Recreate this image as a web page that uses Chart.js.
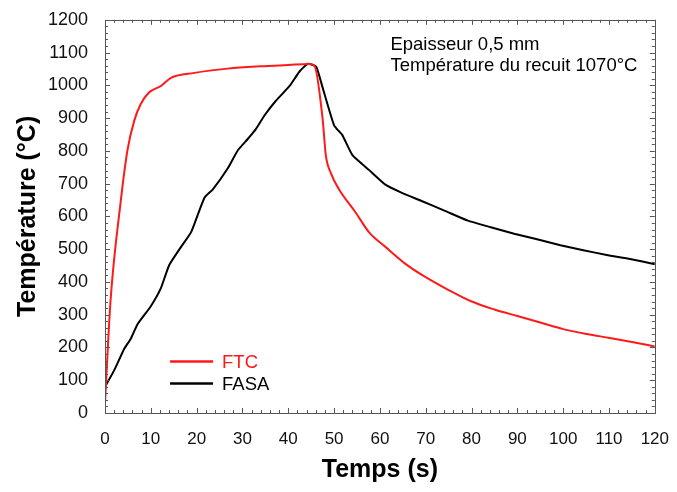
<!DOCTYPE html>
<html>
<head>
<meta charset="utf-8">
<script src="https://cdn.jsdelivr.net/npm/chart.js@4"></script>
<style>
  html, body { margin: 0; padding: 0; background: #fff; }
  #wrap { width: 677px; height: 492px; }
</style>
</head>
<body>
<div id="wrap"><canvas id="tempChart" width="677" height="492"></canvas></div>
<script>
// FTC curve (red)
const ftcTime = [0, 1.2, 3.4, 4.9, 6.4, 7.8, 9.6, 12.2, 14.4, 19.5, 26.8, 34, 40, 44.5, 45.7, 47.5, 48.2, 49.3, 51.1, 54.7, 57.6, 61.2, 65.5, 69.8, 74.9, 79.9, 85, 90, 95, 100, 105.2, 110.2, 115.3, 120];
const ftcTemp = [30, 341, 642, 802, 893, 943, 978, 998, 1023, 1038, 1051, 1058, 1062, 1065, 1060, 897, 786, 732, 682, 612, 552, 507, 456, 416, 376, 341, 316, 296, 276, 256, 241, 229, 216, 203];

// FASA curve (black)
const fasaTime = [0, 2, 4.2, 5.6, 7.1, 10, 12.2, 14, 16.6, 18.8, 21.7, 23.5, 26.8, 29, 31.2, 33, 34.8, 37.3, 40.3, 42.5, 44.3, 46.1, 47.5, 50, 51.8, 54, 57.6, 61.2, 64.8, 69.1, 74.2, 79.2, 84.2, 89.3, 94.3, 99.4, 104.4, 109.5, 114.6, 120];
const fasaTemp = [80, 130, 196, 226, 271, 326, 381, 451, 507, 552, 657, 682, 747, 802, 837, 868, 908, 953, 998, 1043, 1066, 1057, 993, 878, 848, 787, 742, 697, 672, 647, 617, 587, 567, 547, 530, 512, 497, 482, 470, 454];

const seriesNames = ['FTC', 'FASA'];
const seriesColors = ['#ff1a1a', '#000000'];
const noteLines = ['Epaisseur 0,5 mm', 'Température du recuit 1070°C'];

const FONT = 'Liberation Sans, Arial, sans-serif';

function toPoints(xs, ys) {
  return xs.map((x, i) => ({ x: x, y: ys[i] }));
}

// inward ticks on all four sides + frame
const frameTicks = {
  id: 'frameTicks',
  afterDatasetsDraw(chart) {
    const { ctx, chartArea: a, scales: { x, y } } = chart;
    ctx.save();
    ctx.strokeStyle = '#555';
    ctx.lineWidth = 1;
    ctx.beginPath();
    for (let v = 0; v <= 120; v += 2) {
      const px = Math.round(x.getPixelForValue(v)) + 0.5;
      const len = v % 10 === 0 ? 5 : 3;
      ctx.moveTo(px, a.bottom); ctx.lineTo(px, a.bottom - len);
      ctx.moveTo(px, a.top); ctx.lineTo(px, a.top + len);
    }
    for (let v = 0; v <= 1200; v += 20) {
      const py = Math.round(y.getPixelForValue(v)) + 0.5;
      const len = v % 100 === 0 ? 5 : 3;
      ctx.moveTo(a.left, py); ctx.lineTo(a.left + len, py);
      ctx.moveTo(a.right, py); ctx.lineTo(a.right - len, py);
    }
    ctx.stroke();
    ctx.strokeRect(Math.round(a.left) + 0.5, Math.round(a.top) + 0.5,
      Math.round(a.right - a.left), Math.round(a.bottom - a.top));
    ctx.restore();
  }
};

// legend inside the plot + annotation text
const innerText = {
  id: 'innerText',
  afterDraw(chart) {
    const { ctx, scales: { x, y } } = chart;
    ctx.save();
    ctx.font = '18.5px ' + FONT;
    ctx.textBaseline = 'middle';
    // legend, anchored by data coordinates
    const lx = x.getPixelForValue(14.2);
    chart.data.datasets.forEach((ds, i) => {
      const ly = y.getPixelForValue(i === 0 ? 157 : 90);
      ctx.strokeStyle = ds.borderColor;
      ctx.lineWidth = 2.5;
      ctx.beginPath();
      ctx.moveTo(lx, ly); ctx.lineTo(lx + 43, ly);
      ctx.stroke();
      ctx.fillStyle = ds.borderColor;
      ctx.fillText(ds.label, lx + 52, ly + 1);
    });
    // annotation
    ctx.fillStyle = '#000';
    const tx = x.getPixelForValue(62.3);
    ctx.fillText(noteLines[0], tx, y.getPixelForValue(1124));
    ctx.fillText(noteLines[1], tx, y.getPixelForValue(1058));
    ctx.restore();
  }
};

const ctx = document.getElementById('tempChart').getContext('2d');

new Chart(ctx, {
  type: 'line',
  data: {
    datasets: [
      {
        label: seriesNames[0],
        data: toPoints(ftcTime, ftcTemp),
        borderColor: seriesColors[0],
        borderWidth: 2,
        pointRadius: 0,
        cubicInterpolationMode: 'monotone',
        fill: false
      },
      {
        label: seriesNames[1],
        data: toPoints(fasaTime, fasaTemp),
        borderColor: seriesColors[1],
        borderWidth: 2,
        pointRadius: 0,
        tension: 0.15,
        fill: false
      }
    ]
  },
  options: {
    responsive: false,
    animation: false,
    layout: { padding: { top: 15, right: 20, left: 0, bottom: 0 } },
    plugins: {
      legend: { display: false },
      tooltip: { enabled: false }
    },
    scales: {
      x: {
        type: 'linear',
        min: 0,
        max: 120,
        afterFit: s => { s.height = 79; },
        border: { display: false },
        grid: { display: false },
        ticks: {
          stepSize: 10,
          padding: 8,
          color: '#111',
          font: { family: FONT, size: 17 }
        },
        title: {
          display: true,
          text: 'Temps (s)',
          color: '#000',
          padding: { top: 0, bottom: 7 },
          font: { family: FONT, size: 25, weight: 'bold' }
        }
      },
      y: {
        min: 0,
        max: 1200,
        afterFit: s => { s.width = 105; },
        border: { display: false },
        grid: { display: false },
        ticks: {
          stepSize: 100,
          padding: 9,
          color: '#111',
          font: { family: FONT, size: 18 },
          callback: v => String(v)
        },
        title: {
          display: true,
          text: 'Température (°C)',
          color: '#000',
          padding: { top: 13, bottom: 0 },
          font: { family: FONT, size: 25, weight: 'bold' }
        }
      }
    }
  },
  plugins: [frameTicks, innerText]
});
</script>
</body>
</html>
